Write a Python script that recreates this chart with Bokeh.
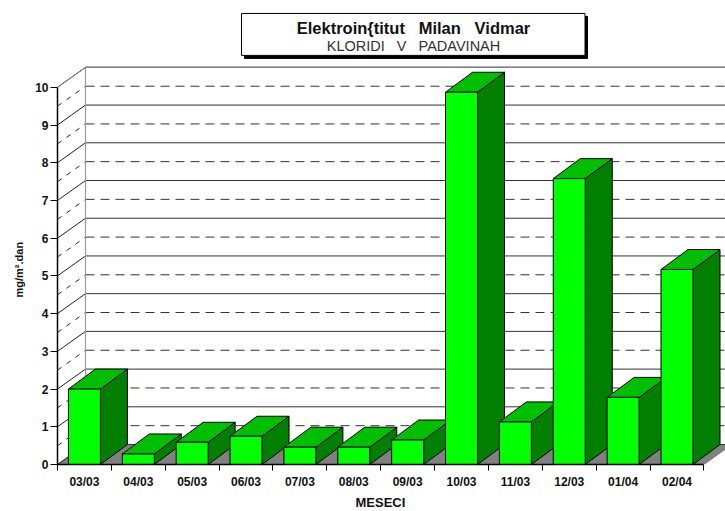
from bokeh.plotting import figure
from bokeh.embed import file_html
from bokeh.resources import INLINE
from bokeh.models import FixedTicker, Range1d, Label, Title

months = ["03/03", "04/03", "05/03", "06/03", "07/03", "08/03", "09/03", "10/03", "11/03", "12/03", "01/04", "02/04"]
values = [2.0, 0.28, 0.59, 0.75, 0.46, 0.46, 0.65, 9.87, 1.13, 7.58, 1.78, 5.17]
y_ticks = list(range(11))
title_main = "Elektroin{titut \u00a0\u00a0Milan \u00a0\u00a0Vidmar"
title_sub = "KLORIDI \u00a0\u00a0V \u00a0\u00a0PADAVINAH"
x_title = "MESECI"
y_title = "mg/m\u00b2.dan"

# layout (page pixels)
X0, Y0, STEP, UNIT = 57.0, 465.0, 53.87, 37.8
W, H = 725, 511
LEFT = int(X0)
BOTTOM = int(H - Y0)
frame_w, frame_h = W - LEFT, H - BOTTOM
xmax, ymax = frame_w / STEP, frame_h / UNIT
px = lambda v: (v - X0) / STEP
py = lambda v: (Y0 - v) / UNIT

WALL_DX, WALL_DY = 28 / STEP, 20 / UNIT
BAR_DX, BAR_DY = 27 / STEP, 20 / UNIT
BAR_W = 32 / STEP

p = figure(width=W, height=H, output_backend="svg", toolbar_location=None,
           x_range=Range1d(0, xmax), y_range=Range1d(0, ymax),
           min_border_left=LEFT, min_border_right=0, min_border_top=0, min_border_bottom=BOTTOM)
p.outline_line_color = None
p.grid.visible = False
p.background_fill_color = "white"
p.border_fill_color = "white"

# floor
p.patch([0, 12, 12 + WALL_DX, WALL_DX], [0, 0, WALL_DY, WALL_DY], fill_color="#808080", line_color="#808080")

# back wall and side wall grid
vals = [v for v in y_ticks]
halves = [v + 0.5 for v in y_ticks[:-1]]
p.segment(x0=[WALL_DX] * len(vals), y0=[v + WALL_DY for v in vals], x1=[xmax] * len(vals), y1=[v + WALL_DY for v in vals],
          line_color="#333333", line_width=1)
p.segment(x0=[WALL_DX], y0=[10 + WALL_DY], x1=[xmax], y1=[10 + WALL_DY], line_color="#808080", line_width=1.5)
p.segment(x0=[0] * len(vals), y0=vals, x1=[WALL_DX] * len(vals), y1=[v + WALL_DY for v in vals],
          line_color="#222222", line_width=1)
p.segment(x0=[0], y0=[10], x1=[WALL_DX], y1=[10 + WALL_DY], line_color="#808080", line_width=1)
p.segment(x0=[WALL_DX] * len(halves), y0=[v + WALL_DY for v in halves], x1=[xmax] * len(halves), y1=[v + WALL_DY for v in halves],
          line_color="#333333", line_width=1, line_dash="9 6")
p.segment(x0=[0] * len(halves), y0=halves, x1=[WALL_DX] * len(halves), y1=[v + WALL_DY for v in halves],
          line_color="#222222", line_width=1, line_dash="5 6")
p.segment(x0=[WALL_DX], y0=[WALL_DY], x1=[WALL_DX], y1=[10 + WALL_DY], line_color="#999999", line_width=1.2)

# bars, painted left to right
for i, v in enumerate(values):
    a = i + 0.5 - BAR_W / 2
    b = i + 0.5 + BAR_W / 2
    p.patch([b, b + BAR_DX, b + BAR_DX, b], [0, BAR_DY, v + BAR_DY, v], fill_color="#007F00", line_color="black", line_width=1)
    p.patch([a, b, b + BAR_DX, a + BAR_DX], [v, v, v + BAR_DY, v + BAR_DY], fill_color="#00BF00", line_color="black", line_width=1)
    p.quad(left=[a], right=[b], bottom=[0], top=[v], fill_color="#00FF00", line_color="black", line_width=1)

# axes
xa = p.xaxis[0]
xa.ticker = FixedTicker(ticks=[i + 0.5 for i in range(12)], minor_ticks=list(range(13)))
xa.major_label_overrides = {i + 0.5: m for i, m in enumerate(months)}
xa.bounds = (0, 12)
xa.major_tick_out = 0
xa.major_tick_in = 0
xa.minor_tick_out = 6
xa.minor_tick_in = 0
xa.minor_tick_line_color = "black"
xa.axis_line_color = "black"
xa.axis_line_width = 1.5
xa.major_label_text_font = "Liberation Sans"
xa.major_label_text_font_style = "bold"
xa.major_label_text_font_size = "12px"
xa.major_label_text_color = "#111111"
xa.major_label_standoff = 4

ya = p.yaxis[0]
ya.ticker = FixedTicker(ticks=y_ticks)
ya.bounds = (0, 10)
ya.major_tick_out = 7
ya.major_tick_in = 0
ya.minor_tick_out = 0
ya.minor_tick_in = 0
ya.major_tick_line_color = "black"
ya.axis_line_color = "black"
ya.axis_line_width = 1.5
ya.major_label_text_font = "Liberation Sans"
ya.major_label_text_font_style = "bold"
ya.major_label_text_font_size = "12px"
ya.major_label_text_color = "#111111"
ya.major_label_standoff = 2

p.add_layout(Title(text=x_title, align="left", offset=298, standoff=3,
                   text_font="Liberation Sans", text_font_style="bold", text_font_size="13px", text_color="#111111"), "below")
p.add_layout(Title(text=y_title, align="left", offset=167, standoff=15,
                   text_font="Liberation Sans", text_font_style="bold", text_font_size="11px", text_color="#111111"), "left")

# title box
p.quad(left=[px(244)], right=[px(587)], bottom=[py(58)], top=[py(16)], fill_color="black", line_color="black")
p.quad(left=[px(241)], right=[px(584.5)], bottom=[py(55)], top=[py(13)], fill_color="white", line_color="black", line_width=1)
p.add_layout(Label(x=px(413), y=py(27.5), text=title_main, text_align="center", text_baseline="middle",
                   text_font="Liberation Sans", text_font_style="bold", text_font_size="16.5px", text_color="#111111"))
p.add_layout(Label(x=px(413), y=py(46), text=title_sub, text_align="center", text_baseline="middle",
                   text_font="Liberation Sans", text_font_size="14.5px", text_color="#333333"))

open("out.html", "w").write(file_html(p, INLINE))
